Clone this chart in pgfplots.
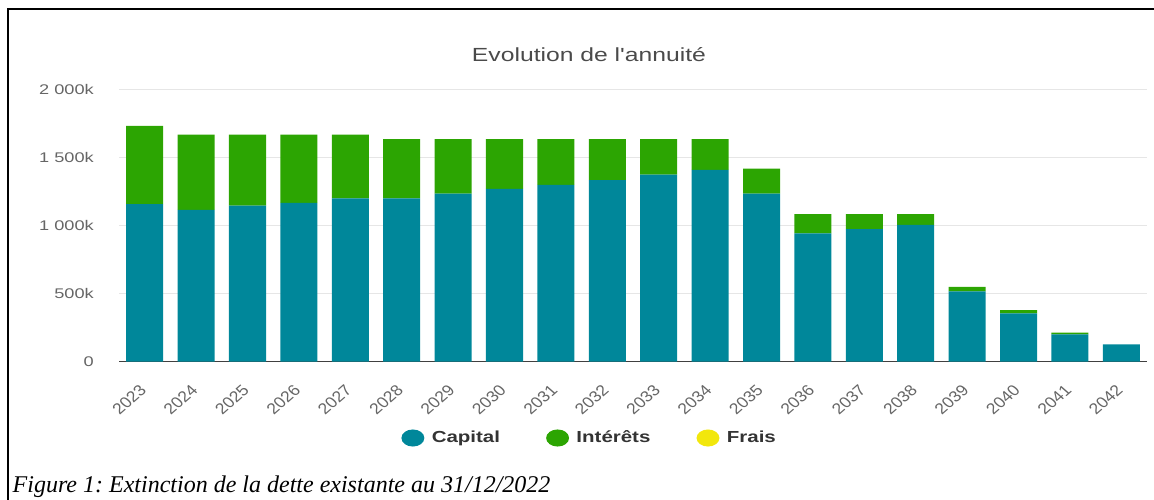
\documentclass[border=0pt]{standalone}
\usepackage{fontspec}
\setmainfont{Liberation Sans}
\newfontfamily\capfont{Liberation Serif}
\usepackage{pgfplots}
\usepackage{pgfplotstable}
\pgfplotsset{compat=1.18}

\definecolor{capital}{HTML}{00879A}
\definecolor{interets}{HTML}{2CA502}
\definecolor{frais}{HTML}{F2E70C}
\definecolor{titletxt}{HTML}{4A4A4A}
\definecolor{ticktxt}{HTML}{666666}
\definecolor{legtxt}{HTML}{333333}
\definecolor{gridc}{HTML}{E6E6E6}

% values in k EUR, x = 0 for 2023 ... 19 for 2042
\pgfplotstableread{
x  cap   int  frais
0  1157  575  0
1  1115  553  0
2  1146  522  0
3  1166  502  0
4  1200  468  0
5  1200  434  0
6  1234  400  0
7  1269  365  0
8  1298  336  0
9  1333  301  0
10 1374  260  0
11 1408  226  0
12 1234  184  0
13 943   140  0
14 973   110  0
15 1004  79   0
16 517   32   0
17 355   23   0
18 201   12   0
19 128   0    0
}\annuite

\pgfplotsset{
  dotlegend/.style={legend image code/.code={%
    \fill[##1] (0.3cm,0) ellipse [x radius=8.6pt, y radius=6.4pt];
    \path (0.3cm+11.6pt,0);}},
}

\begin{document}
\frenchspacing
\begin{tikzpicture}
\useasboundingbox (0,0) rectangle (865.5pt,375pt);
\draw[line width=1.3pt] (6.2pt,0) -- (6.2pt,368.1pt) -- (865.5pt,368.1pt);

\node[anchor=base, font=\fontsize{14.25pt}{16pt}\selectfont, text=titletxt, xscale=1.3]
  at (441.75pt,328.9pt) {Evolution de l\textquotesingle annuité};

\begin{axis}[
  at={(89.25pt,103.7pt)}, anchor=south west,
  width=771pt, height=204.3pt, scale only axis,
  ybar stacked, bar width=0.72,
  xmin=-0.5, xmax=19.5, ymin=0, ymax=2000,
  xtick={0,...,19},
  xticklabels={2023,2024,2025,2026,2027,2028,2029,2030,2031,2032,2033,2034,2035,2036,2037,2038,2039,2040,2041,2042},
  ytick={0,500,1000,1500,2000},
  yticklabels={0,500k,1~000k,1~500k,2~000k},
  major tick length=0pt,
  ymajorgrids, grid style={gridc, line width=0.75pt},
  axis x line*=bottom, axis y line*=left,
  x axis line style={-, draw=black!75, line width=0.75pt},
  y axis line style={draw=none},
  yticklabel style={font=\fontsize{10.5pt}{12pt}\selectfont, text=ticktxt, xscale=1.3, anchor=east, xshift=-11pt},
  xticklabel style={font=\fontsize{11.5pt}{13pt}\selectfont, text=ticktxt, xscale=1.15, rotate=45, anchor=east, yshift=-13pt, xshift=-11pt},
  legend columns=3,
  legend style={at={(rel axis cs:0.4585,-0.28)}, anchor=center, draw=none, fill=none,
    font=\bfseries\fontsize{12pt}{14pt}\selectfont, text=legtxt,
    nodes={xscale=1.28},
    /tikz/every even column/.append style={column sep=32pt}},
]
\addplot[fill=capital, draw=none, dotlegend] table[x=x, y=cap] {\annuite};
\addlegendentry{Capital}
\addplot[fill=interets, draw=none, dotlegend] table[x=x, y=int] {\annuite};
\addlegendentry{Intérêts}
\addplot[fill=frais, draw=none, dotlegend] table[x=x, y=frais] {\annuite};
\addlegendentry{Frais}
\end{axis}

\node[anchor=base west, font=\capfont\itshape\fontsize{18pt}{20pt}\selectfont]
  at (6pt,5.25pt) {Figure 1: Extinction de la dette existante au 31/12/2022};
\end{tikzpicture}
\end{document}
